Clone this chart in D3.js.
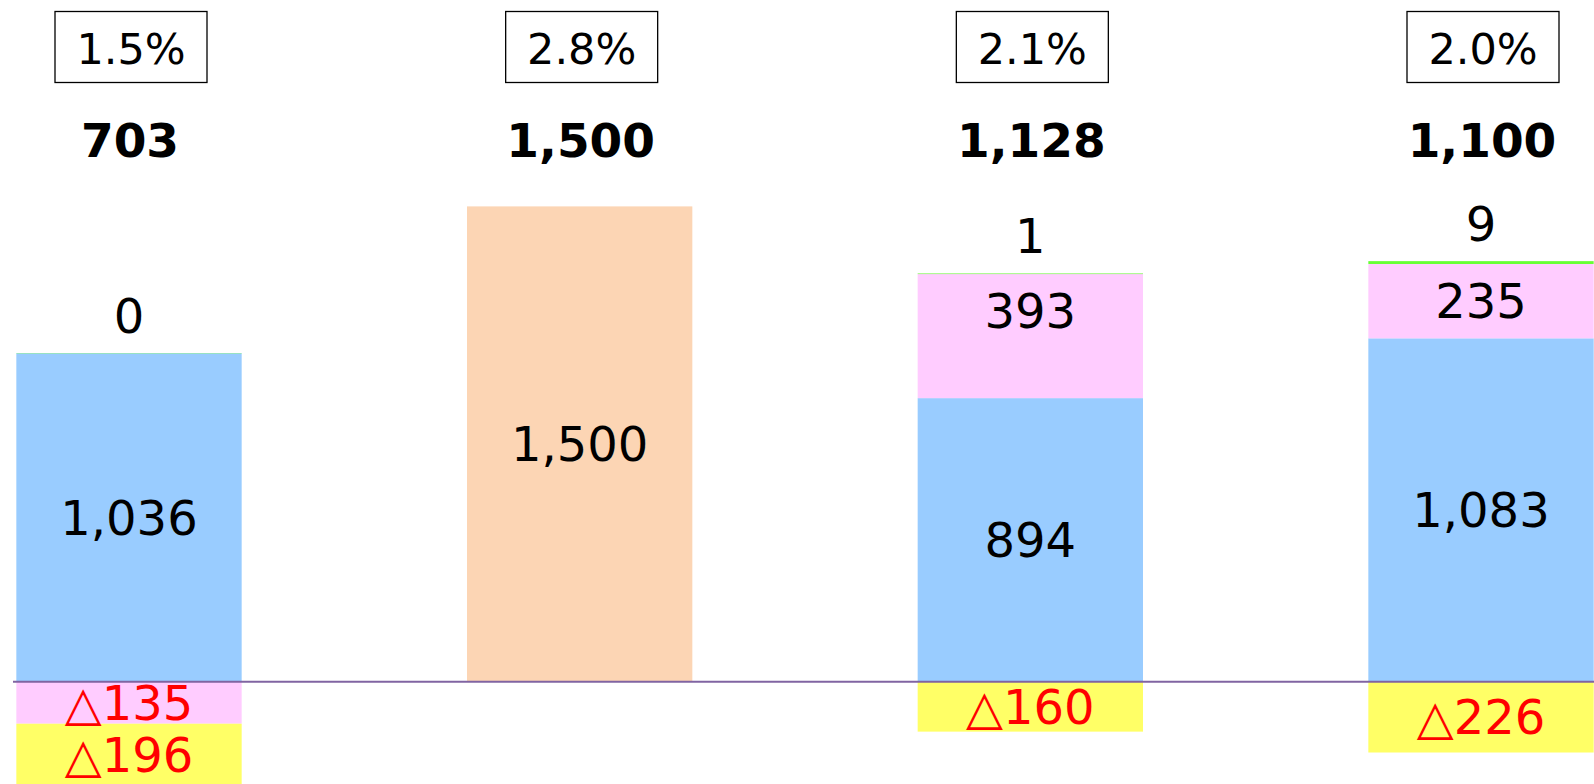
<!DOCTYPE html>
<html>
<head>
<meta charset="utf-8">
<script src="https://cdn.jsdelivr.net/npm/d3@7"></script>
<style>
  html, body { margin: 0; padding: 0; background: #ffffff; }
  svg { display: block; }
</style>
</head>
<body>
<svg id="chart" width="1594" height="784"></svg>
<script>
// ---------- data ----------
const categories = ["A", "B", "C", "D"];
const blueValues   = [1036, null, 894, 1083];
const pinkValues   = [-135, null, 393, 235];
const yellowValues = [-196, null, -160, -226];
const greenValues  = [0, null, 1, 9];
const peachValues  = [null, 1500, null, null];
const totalLabels  = [703, 1500, 1128, 1100];
const pctLabels    = ["1.5%", "2.8%", "2.1%", "2.0%"];

const seriesKeys   = ["blue", "pink", "yellow", "green", "peach"];
const seriesValues = { blue: blueValues, pink: pinkValues, yellow: yellowValues, green: greenValues, peach: peachValues };
const seriesColors = { blue: "#99CCFF", pink: "#FFCCFF", yellow: "#FFFF66", green: "#66FF33", peach: "#FCD5B4" };

// ---------- layout ----------
const W = 1594, H = 784;
const svg = d3.select("#chart");
const FONT = "'DejaVu Sans', Verdana, sans-serif";
const fs = 48;

const x = d3.scaleBand().domain(categories).range([-209, 1819]).paddingInner(0.5).paddingOuter(0.5);
const y = d3.scaleLinear().domain([0, 1500]).range([681, 206.4]);

// stack manually (positives upward, negatives downward, in key order)
const segments = [];
categories.forEach((c, j) => {
  let yp = 0, yn = 0;
  seriesKeys.forEach(k => {
    const v = seriesValues[k][j];
    if (v === null || v === undefined) return;
    let y0, y1;
    if (v >= 0) { y0 = yp; y1 = yp + v; yp = y1; }
    else { y1 = yn; y0 = yn + v; yn = y0; }
    segments.push({ cat: c, key: k, value: v, y0, y1 });
  });
});

const fmt = d3.format(",");

// bars
svg.append("g").selectAll("rect").data(segments).join("rect")
  .attr("x", d => x(d.cat))
  .attr("width", x.bandwidth())
  .attr("y", d => y(d.y1))
  .attr("height", d => Math.max(y(d.y0) - y(d.y1), 0.6))
  .attr("fill", d => seriesColors[d.key])
  .attr("fill-opacity", d => (d.y1 - d.y0) === 0 ? 0.5 : 1);

// baseline
svg.append("line")
  .attr("x1", 13).attr("x2", W)
  .attr("y1", y(0) + 0.7).attr("y2", y(0) + 0.7)
  .attr("stroke", "#8064A2").attr("stroke-width", 2);

// segment labels
const half = fs * 0.3645;
svg.append("g").selectAll("text").data(segments).join("text")
  .attr("x", d => x(d.cat) + x.bandwidth() / 2)
  .attr("y", d => {
    const top = y(d.y1), bot = y(d.y0), mid = (top + bot) / 2;
    if (d.key === "green") return top - 20;
    if (d.key === "pink" && d.value > 0) return top + 54;
    return mid + half;
  })
  .attr("text-anchor", "middle")
  .attr("font-family", FONT)
  .attr("font-size", fs)
  .attr("fill", d => d.value < 0 ? "#FF0000" : "#000000")
  .text(d => d.value < 0 ? "△" + fmt(-d.value) : fmt(d.value));

// totals (bold)
svg.append("g").selectAll("text").data(categories).join("text")
  .attr("x", c => x(c) + x.bandwidth() / 2 + 1)
  .attr("y", 156.7)
  .attr("text-anchor", "middle")
  .attr("font-family", FONT)
  .attr("font-weight", "bold")
  .attr("font-size", 47)
  .attr("fill", "#000")
  .text((c, i) => fmt(totalLabels[i]));

// percentage boxes
const pg = svg.append("g").selectAll("g").data(categories).join("g")
  .attr("transform", c => `translate(${x(c) + x.bandwidth() / 2 + 2},0)`);
pg.append("rect")
  .attr("x", -76).attr("y", 11.5).attr("width", 152).attr("height", 71)
  .attr("fill", "#fff").attr("stroke", "#000").attr("stroke-width", 1.3);
pg.append("text")
  .attr("x", 0).attr("y", 64)
  .attr("text-anchor", "middle")
  .attr("font-family", FONT)
  .attr("font-size", 43)
  .attr("fill", "#000")
  .text((c, i) => pctLabels[i]);
</script>
</body>
</html>
